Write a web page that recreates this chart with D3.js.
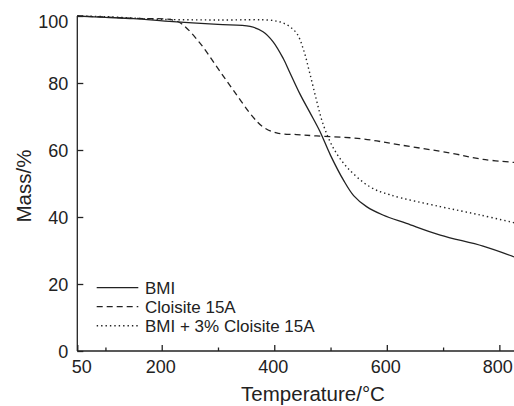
<!DOCTYPE html>
<html>
<head>
<meta charset="utf-8">
<script src="https://cdn.jsdelivr.net/npm/d3@7"></script>
<style>
  html, body { margin: 0; padding: 0; background: #fff; }
  svg { display: block; font-family: "Liberation Sans", Arial, Helvetica, sans-serif; }
</style>
</head>
<body>
<svg id="chart" width="514" height="406"></svg>
<script>
// ---- data ----
const bmiT = [50, 100, 150, 220, 300, 357, 380, 398, 416, 428, 446, 463, 481, 500, 523, 541, 564, 593, 635, 695, 771, 826];
const bmiM = [100, 99.6, 99.2, 98.3, 97.5, 96.9, 95.3, 92.3, 87.3, 83.0, 76.6, 71.3, 65.6, 58.4, 51.0, 46.4, 43.1, 40.6, 38.1, 34.6, 31.3, 28.1];

const cloT = [50, 100, 150, 220, 236, 268, 298, 327, 362, 380, 404, 440, 475, 553, 624, 713, 771, 826];
const cloM = [100, 99.7, 99.3, 98.8, 97.6, 91.9, 84.8, 77.9, 69.9, 66.9, 65.1, 64.6, 64.2, 63.4, 61.5, 59.1, 57.2, 56.3];

const mixT = [50, 100, 200, 300, 400, 422, 440, 452, 463, 475, 486, 504, 529, 570, 606, 695, 766, 826];
const mixM = [100, 99.8, 99.0, 98.8, 98.6, 97.4, 94.8, 89.9, 83.0, 74.9, 68.1, 60.9, 54.9, 49.0, 46.6, 43.1, 40.6, 38.3];

const seriesNames = ["BMI", "Cloisite 15A", "BMI + 3% Cloisite 15A"];
const xMajorTicks = [50, 200, 400, 600, 800];
const xMinorTicks = [100, 300, 500, 700];
const yTicks = [0, 20, 40, 60, 80, 100];
const xTitle = "Temperature/°C";
const yTitle = "Mass/%";

(function () {
// ---- layout ----
const svg = d3.select("#chart");
const mLeft = 77.3, mRight = 514, mTop = 16, mBottom = 351;
const x = d3.scaleLinear().domain([50, 826]).range([mLeft, mRight]);
const y = d3.scaleLinear().domain([0, 100]).range([mBottom, mTop]);
const ink = "#222";

// axes
const xAxisMajor = d3.axisTop(x).tickValues(xMajorTicks).tickSize(6).tickFormat("");
const xAxisMinor = d3.axisTop(x).tickValues(xMinorTicks).tickSize(3.5).tickFormat("");
const gx = svg.append("g").attr("transform", `translate(0,${mBottom})`).call(xAxisMajor);
svg.append("g").attr("transform", `translate(0,${mBottom})`).call(xAxisMinor).select(".domain").remove();
gx.select(".domain").attr("d", `M${mLeft},0H${mRight}`);

// x tick labels via bottom axis (no tick lines)
const gxl = svg.append("g").attr("transform", `translate(0,${mBottom})`)
  .call(d3.axisBottom(x).tickValues(xMajorTicks).tickSize(0).tickPadding(9).tickFormat(d3.format("d")));
gxl.select(".domain").remove();
gxl.selectAll(".tick text").attr("font-size", 18).attr("fill", ink).attr("font-family", null)
  .attr("dx", d => d === 50 ? 4 : (d === 800 ? -2 : -1.5));

const gy = svg.append("g").attr("transform", `translate(${mLeft},0)`)
  .call(d3.axisRight(y).tickValues(yTicks).tickSize(6).tickFormat(""));
gy.select(".domain").attr("d", `M0,${mTop}V${mBottom}`);
const gyl = svg.append("g").attr("transform", `translate(${mLeft},0)`)
  .call(d3.axisLeft(y).tickValues(yTicks).tickSize(0).tickPadding(9));
gyl.select(".domain").remove();
gyl.selectAll(".tick text").attr("font-size", 18).attr("fill", ink).attr("font-family", null)
  .attr("dy", d => d === 100 ? "0.62em" : "0.34em");

svg.selectAll(".domain, .tick line").attr("stroke", ink).attr("stroke-width", 1.3);

// axis titles
svg.append("text").attr("x", 313).attr("y", 401).attr("text-anchor", "middle")
  .attr("font-size", 20.5).attr("fill", ink).text(xTitle);
svg.append("text").attr("transform", "translate(31,186) rotate(-90)").attr("text-anchor", "middle")
  .attr("font-size", 20.5).attr("fill", ink).text(yTitle);

// lines
const styles = [
  { T: bmiT, M: bmiM, dash: null, w: 1.3 },
  { T: cloT, M: cloM, dash: "6,4", w: 1.3 },
  { T: mixT, M: mixM, dash: "1.4,3", w: 1.4 }
];
const line = d3.line().x(d => x(d[0])).y(d => y(d[1])).curve(d3.curveCatmullRom.alpha(0.5));
styles.forEach(s => {
  svg.append("path")
    .datum(s.T.map((t, i) => [t, s.M[i]]))
    .attr("d", line)
    .attr("fill", "none")
    .attr("stroke", ink)
    .attr("stroke-width", s.w)
    .attr("stroke-dasharray", s.dash);
});

// legend
const lg = svg.append("g");
seriesNames.forEach((name, i) => {
  const yy = 287.7 + i * 19;
  lg.append("line").attr("x1", 96.7).attr("x2", 138.3).attr("y1", yy).attr("y2", yy)
    .attr("stroke", ink).attr("stroke-width", styles[i].w).attr("stroke-dasharray", styles[i].dash);
  lg.append("text").attr("x", 145).attr("y", yy + 5.8).attr("font-size", 17).attr("fill", ink).text(name);
});
})();
</script>
</body>
</html>
